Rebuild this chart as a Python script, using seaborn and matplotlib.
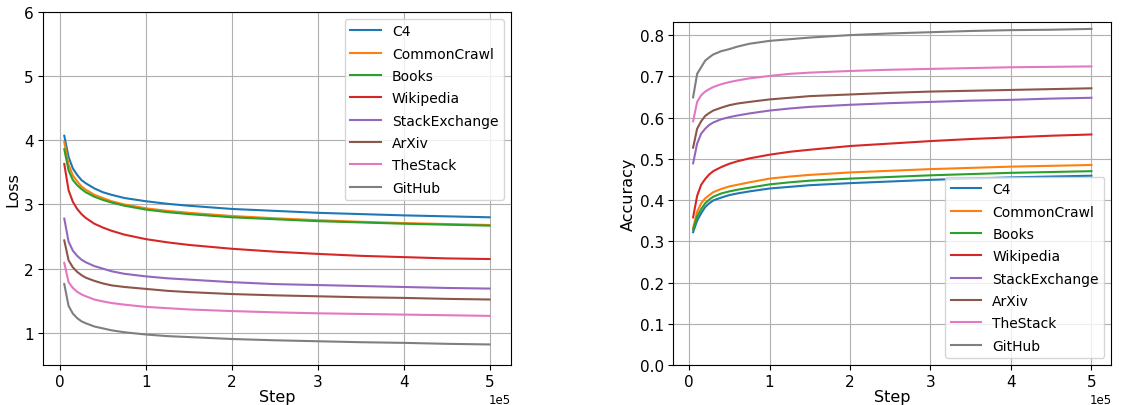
import numpy as np
import pandas as pd
import matplotlib
matplotlib.use("Agg")
import matplotlib.pyplot as plt
import seaborn as sns

steps = [5000, 10000, 15000, 20000, 25000, 30000, 40000, 50000, 60000, 75000,
         100000, 125000, 150000, 200000, 250000, 300000, 350000, 400000,
         450000, 500000]

datasets = ["C4", "CommonCrawl", "Books", "Wikipedia", "StackExchange",
            "ArXiv", "TheStack", "GitHub"]

# Validation loss per dataset
loss_c4 = [4.07, 3.74, 3.56, 3.46, 3.38, 3.33, 3.25, 3.19, 3.15, 3.10,
           3.05, 3.01, 2.98, 2.93, 2.90, 2.87, 2.85, 2.83, 2.815, 2.80]
loss_cc = [3.97, 3.62, 3.45, 3.36, 3.28, 3.23, 3.15, 3.10, 3.05, 3.00,
           2.94, 2.90, 2.87, 2.82, 2.785, 2.755, 2.73, 2.71, 2.695, 2.68]
loss_books = [3.86, 3.53, 3.38, 3.30, 3.24, 3.19, 3.12, 3.07, 3.03, 2.98,
              2.92, 2.88, 2.85, 2.80, 2.77, 2.74, 2.72, 2.70, 2.685, 2.67]
loss_wiki = [3.63, 3.22, 3.04, 2.93, 2.85, 2.79, 2.70, 2.64, 2.59, 2.53,
             2.46, 2.41, 2.37, 2.31, 2.265, 2.23, 2.20, 2.18, 2.16, 2.15]
loss_se = [2.78, 2.42, 2.28, 2.20, 2.14, 2.10, 2.04, 2.00, 1.96, 1.92,
           1.88, 1.85, 1.83, 1.79, 1.76, 1.745, 1.73, 1.715, 1.70, 1.69]
loss_arxiv = [2.44, 2.13, 2.02, 1.95, 1.90, 1.86, 1.81, 1.77, 1.74, 1.715,
              1.685, 1.655, 1.635, 1.605, 1.585, 1.57, 1.555, 1.545, 1.53, 1.52]
loss_stack = [2.09, 1.79, 1.70, 1.64, 1.60, 1.57, 1.52, 1.49, 1.465, 1.44,
              1.405, 1.385, 1.365, 1.34, 1.32, 1.305, 1.295, 1.285, 1.275, 1.265]
loss_github = [1.76, 1.42, 1.30, 1.23, 1.18, 1.15, 1.10, 1.07, 1.04, 1.01,
               0.975, 0.95, 0.935, 0.905, 0.885, 0.87, 0.855, 0.845, 0.83, 0.82]

# Next-token accuracy per dataset
acc_c4 = [0.322, 0.350, 0.368, 0.383, 0.392, 0.399, 0.406, 0.412, 0.416, 0.421,
          0.428, 0.432, 0.436, 0.441, 0.445, 0.449, 0.452, 0.455, 0.457, 0.459]
acc_cc = [0.332, 0.372, 0.392, 0.404, 0.412, 0.419, 0.427, 0.433, 0.437, 0.443,
          0.452, 0.457, 0.461, 0.467, 0.471, 0.475, 0.478, 0.481, 0.483, 0.485]
acc_books = [0.328, 0.360, 0.378, 0.392, 0.401, 0.408, 0.416, 0.421, 0.425, 0.430,
             0.438, 0.443, 0.447, 0.452, 0.456, 0.460, 0.463, 0.466, 0.468, 0.470]
acc_wiki = [0.358, 0.410, 0.437, 0.451, 0.462, 0.470, 0.480, 0.488, 0.494, 0.501,
            0.510, 0.517, 0.522, 0.531, 0.537, 0.543, 0.548, 0.552, 0.556, 0.559]
acc_se = [0.489, 0.537, 0.561, 0.573, 0.582, 0.588, 0.596, 0.601, 0.605, 0.610,
          0.617, 0.622, 0.626, 0.631, 0.635, 0.638, 0.641, 0.643, 0.646, 0.648]
acc_arxiv = [0.527, 0.573, 0.591, 0.604, 0.611, 0.617, 0.624, 0.630, 0.634, 0.638,
             0.644, 0.648, 0.652, 0.656, 0.660, 0.663, 0.665, 0.667, 0.669, 0.671]
acc_stack = [0.591, 0.638, 0.654, 0.663, 0.669, 0.674, 0.681, 0.686, 0.690, 0.695,
             0.701, 0.706, 0.709, 0.713, 0.716, 0.718, 0.720, 0.722, 0.723, 0.724]
acc_github = [0.649, 0.706, 0.722, 0.738, 0.746, 0.753, 0.761, 0.766, 0.772, 0.779,
              0.786, 0.790, 0.794, 0.800, 0.804, 0.807, 0.810, 0.812, 0.813, 0.815]

loss_series = [loss_c4, loss_cc, loss_books, loss_wiki, loss_se, loss_arxiv,
               loss_stack, loss_github]
acc_series = [acc_c4, acc_cc, acc_books, acc_wiki, acc_se, acc_arxiv,
              acc_stack, acc_github]


def long_frame(series, value_name):
    rows = []
    for name, vals in zip(datasets, series):
        for s, v in zip(steps, vals):
            rows.append({"Step": s, value_name: v, "Dataset": name})
    return pd.DataFrame(rows)


loss_df = long_frame(loss_series, "Loss")
acc_df = long_frame(acc_series, "Accuracy")

plt.rcParams["font.family"] = ["DejaVu Sans"]
palette = sns.color_palette("tab10", len(datasets))

fig = plt.figure(figsize=(11.41, 4.06), dpi=100)
ax1 = fig.add_axes([0.0377, 0.0985, 0.410, 0.870])
ax2 = fig.add_axes([0.590, 0.0985, 0.384, 0.8441])

sns.lineplot(data=loss_df, x="Step", y="Loss", hue="Dataset",
             hue_order=datasets, palette=palette, ax=ax1, linewidth=1.5)
sns.lineplot(data=acc_df, x="Step", y="Accuracy", hue="Dataset",
             hue_order=datasets, palette=palette, ax=ax2, linewidth=1.5)

ax1.set_ylim(0.5, 6)
ax1.set_yticks([1, 2, 3, 4, 5, 6])
ax2.set_ylim(0, 0.831)
ax2.set_yticks(np.arange(0, 0.81, 0.1))

for ax in (ax1, ax2):
    ax.set_xlim(-19750, 524750)
    ax.ticklabel_format(axis="x", style="sci", scilimits=(0, 0))
    ax.xaxis.get_offset_text().set_fontsize(8.5)
    ax.grid(True, color="#b0b0b0", linewidth=0.8)
    ax.tick_params(labelsize=11, pad=3)
    ax.set_xlabel("Step", fontsize=11.5, labelpad=0)

ax1.set_ylabel("Loss", fontsize=11.5, labelpad=3)
ax2.set_ylabel("Accuracy", fontsize=11.5, labelpad=3)

ax1.legend(loc="upper right", fontsize=10, handlelength=2.2, labelspacing=0.6)
ax2.legend(loc="lower right", fontsize=10, handlelength=2.2, labelspacing=0.6)

fig.savefig("out.png", dpi=100)
